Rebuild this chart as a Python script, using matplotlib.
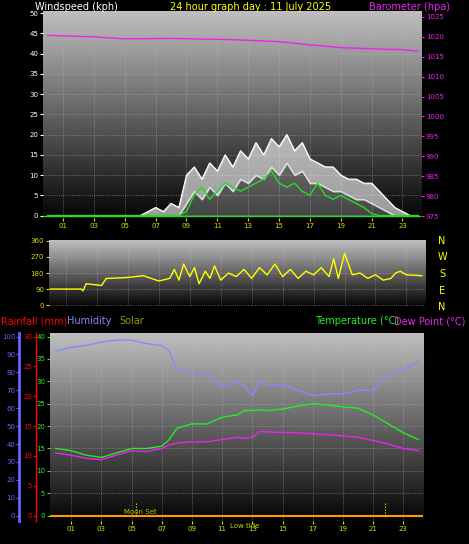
import numpy as np
import matplotlib.pyplot as plt

# wind, half-hourly 0..24
wind_h = np.arange(0, 24.5, 0.5)
gust = [0,0,0,0,0,0,0,0,0,0,0,0,0,1,2,1,3,2,10,12,9,13,11,15,12,16,14,18,15,19,17,20,16,18,14,13,12,12,10,9,9,8,8,6,4,2,1,0,0]
gust_lo = [0,0,0,0,0,0,0,0,0,0,0,0,0,0,0,0,0,0,3,6,4,7,5,8,6,9,8,10,9,12,10,13,10,11,8,8,7,6,6,5,4,4,3,2,1,0,0,0,0]
avg = [0,0,0,0,0,0,0,0,0,0,0,0,0,0,0,0,0,0,1,5,7,4,6,8,7,6,7,8,9,11,8,7,8,6,5,8,5,4,5,4,3,2,0.5,0,0,0,0,0,0]
baro_h = [0,3,5,8,12,15,17,19,21,23,24]
baro = [1020.4,1020.0,1019.5,1019.6,1019.3,1018.8,1018.0,1017.3,1017.0,1016.8,1016.4]

dir_h = [0,2,2.1,2.3,3.3,3.6,3.8,5,6,7,7.7,8,8.3,8.6,9,9.3,9.6,10,10.3,10.6,11,11.5,12,12.5,13,13.5,14,14.5,15,15.5,16,16.5,17,17.5,18,18.3,18.6,19,19.5,20,20.5,21,21.5,22,22.3,22.6,23,24]
wdir = [90,90,80,120,110,150,150,155,165,135,150,200,140,230,160,210,120,190,150,220,140,180,160,200,150,210,170,230,160,200,150,190,170,210,160,260,150,290,170,180,150,170,140,150,180,190,170,165]

met_h = [0,1,2,3,4,5,6,7,7.5,8,9,10,11,12,12.5,13,13.5,14,15,16,17,18,19,20,21,22,23,24]
hum = [92,94,95,97,98,98,96,95,92,82,80,79,72,75,72,67,75,73,73,70,67,68,68,70,70,78,82,86]
temp = [15,14.5,13.5,13,14,15,15,15.5,17,19.5,20.5,20.5,22,22.5,23.5,23.5,23.6,23.5,23.8,24.5,25,24.7,24.3,24,22.5,20.5,18.5,17]
dew = [14,13.5,12.8,12.5,13.5,14.5,14.3,15,15.8,16.2,16.5,16.5,17,17.5,17.3,17.5,18.8,18.7,18.6,18.5,18.3,18.1,17.8,17.5,16.8,16,15,14.5]

hour_ticks = list(range(1, 24, 2))
hour_labels = ['%02d' % h for h in hour_ticks]

fig = plt.figure(figsize=(4.69, 5.44), dpi=100, facecolor='black')
W, H = 469, 544
def box(x0, y0, x1, y1):
    return [x0 / W, 1 - y1 / H, (x1 - x0) / W, (y1 - y0) / H]

grad = np.linspace(0.75, 0.02, 256).reshape(-1, 1)
def style(ax):
    ax.set_facecolor('black')
    ax.imshow(grad, cmap='gray', vmin=0, vmax=1, aspect='auto', extent=[0, 1, 0, 1],
              transform=ax.transAxes, zorder=0)
    ax.grid(True, color='#bbbbbb', ls=':', lw=0.6, alpha=0.6)
    for s in ax.spines.values():
        s.set_visible(False)
    ax.tick_params(labelsize=5, length=2, pad=1.5)

fs = 5
# top panel
ax1 = fig.add_axes(box(43, 11, 421, 218))
style(ax1)
ax1.set_xlim(-0.3, 24.2)
ax1.set_ylim(-0.6, 50.5)
ax1.fill_between(wind_h, gust_lo, gust, color='white', alpha=0.6, zorder=2)
ax1.fill_between(wind_h, gust_lo, color='white', alpha=0.25, zorder=2)
ax1.plot(wind_h, gust, color='white', lw=0.8, zorder=2)
ax1.plot(wind_h, gust_lo, color='#dddddd', lw=0.6, zorder=2)
ax1.plot(wind_h, avg, color='#22dd22', lw=1, zorder=3)
ax1.axhline(0, color='#22dd22', lw=1, zorder=3)
ax1.set_yticks(range(0, 51, 5))
ax1.set_xticks(hour_ticks)
ax1.set_xticklabels(hour_labels)
ax1.tick_params(axis='y', colors='white', labelsize=fs)
ax1.tick_params(axis='x', colors='#dddd00', labelsize=fs)
ax1b = ax1.twinx()
ax1b.set_ylim(974.5, 1026.5)
ax1b.plot(baro_h, baro, color='#ee22ee', lw=1)
ax1b.set_yticks(range(975, 1026, 5))
ax1b.tick_params(axis='y', colors='#ee22ee', labelsize=fs, length=2, pad=1.5)
for s in ax1b.spines.values():
    s.set_visible(False)
fig.text(35 / W, 1 - 7 / H, 'Windspeed (kph)', color='white', fontsize=7, va='center')
fig.text(170 / W, 1 - 7 / H, '24 hour graph day : 11 July 2025', color='yellow', fontsize=7, va='center')
fig.text(450 / W, 1 - 7 / H, 'Barometer (hpa)', color='#ee22ee', fontsize=7, va='center', ha='right')

# direction panel
ax2 = fig.add_axes(box(49, 240, 425, 306))
style(ax2)
ax2.set_xlim(-0.1, 24.2)
ax2.set_ylim(-5, 365)
ax2.plot(dir_h, wdir, color='yellow', lw=1)
ax2.set_yticks([0, 90, 180, 270, 360])
ax2.set_xticks(hour_ticks)
ax2.set_xticklabels([])
ax2.tick_params(axis='y', colors='#dddd00', labelsize=fs)
ax2.tick_params(axis='x', length=0)
for i, c in enumerate(['N', 'W', 'S', 'E', 'N']):
    fig.text(442 / W, 1 - (241 + i * 16.5) / H, c, color='yellow', fontsize=7, ha='center', va='center')
fig.text(1 / W, 1 - 321 / H, 'Rainfall (mm)', color='red', fontsize=7, va='center')
fig.text(67 / W, 1 - 321 / H, 'Humidity', color='#8888ff', fontsize=7, va='center')
fig.text(119 / W, 1 - 321 / H, 'Solar', color='#999900', fontsize=7, va='center')
fig.text(315 / W, 1 - 321 / H, 'Temperature (°C)', color='#22ee22', fontsize=7, va='center')
fig.text(394 / W, 1 - 321 / H, 'Dew Point (°C)', color='#ee22ee', fontsize=7, va='center')

# bottom panel
ax3 = fig.add_axes(box(50, 333, 423, 521))
style(ax3)
ax3.set_xlim(-0.4, 24.3)
ax3.set_ylim(-1.2, 40.8)
ax3.plot(met_h, temp, color='#22ee22', lw=1, zorder=3)
ax3.plot(met_h, dew, color='#ee22ee', lw=1, zorder=3)
ax3.axhline(0, color='#ff9900', lw=1.5, zorder=3)
for xv in [5.3, 21.8]:
    ax3.plot([xv, xv], [0, 3], color='yellow', ls=':', lw=0.8, zorder=3)
ax3.text(4.5, 0.3, 'Moon Set', color='#bbbb00', fontsize=5, zorder=4)
ax3.text(12.5, -1.6, 'Low tide', color='#bbdd00', fontsize=5, ha='center', va='top', clip_on=False)
ax3.set_xticks(hour_ticks)
ax3.set_xticklabels(hour_labels)
ax3.tick_params(axis='x', colors='#dddd00', labelsize=fs)
ax3.yaxis.tick_right()
ax3.set_yticks(range(0, 41, 5))
ax3.tick_params(axis='y', colors='#22ee22', labelsize=fs)
axh = ax3.twinx()
axh.set_ylim(-3, 102)
axh.plot(met_h, hum, color='#8888ff', lw=1)
axh.yaxis.tick_left()
axh.spines['left'].set_position(('outward', 22))
axh.spines['left'].set_color('#6666ff')
axh.spines['left'].set_linewidth(2)
for k in ['right', 'top', 'bottom']:
    axh.spines[k].set_visible(False)
axh.set_yticks(range(0, 101, 10))
axh.tick_params(axis='y', colors='#6666ff', labelsize=fs, length=2, pad=1)
axr = ax3.twinx()
axr.set_ylim(-0.9, 30.6)
axr.yaxis.tick_left()
axr.spines['left'].set_position(('outward', 10))
axr.spines['left'].set_color('red')
axr.spines['left'].set_linewidth(1)
for k in ['right', 'top', 'bottom']:
    axr.spines[k].set_visible(False)
axr.set_yticks(range(0, 31, 5))
axr.tick_params(axis='y', colors='red', labelsize=fs, length=2, pad=1)

fig.savefig('out.png', dpi=100, facecolor='black')
